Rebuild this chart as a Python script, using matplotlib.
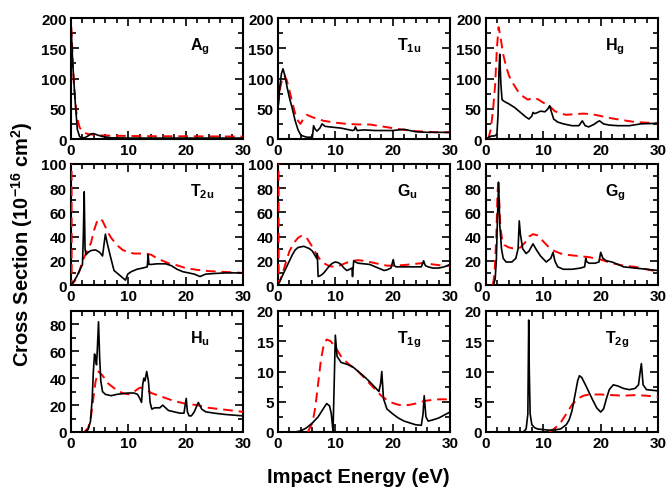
import matplotlib
matplotlib.use("Agg")
import matplotlib.pyplot as plt
from matplotlib.ticker import MultipleLocator

plt.rcParams['font.family'] = ['Liberation Sans', 'DejaVu Sans']
plt.rcParams['font.weight'] = 'bold'
plt.rcParams['mathtext.fontset'] = 'custom'
plt.rcParams['mathtext.rm'] = 'Liberation Sans:bold'
plt.rcParams['mathtext.bf'] = 'Liberation Sans:bold'
plt.rcParams['mathtext.it'] = 'Liberation Sans:bold'
plt.rcParams['mathtext.default'] = 'bf'

# ---- data (solid = black, dashed = red) ----
ag_solid_x = [0, 0.3, 0.7, 1.1, 1.5, 1.9, 2.3, 2.8, 3.4, 3.9, 4.5, 5.5, 7, 10, 15, 20, 25, 30]
ag_solid_y = [190, 125, 66, 16, 4, 2, 2, 4, 8, 9, 7, 4, 2, 1.5, 1.5, 1.5, 1.5, 1.5]
ag_dash_x = [0.05, 0.5, 1, 1.5, 2, 2.5, 3, 4, 5, 7, 10, 15, 20, 30]
ag_dash_y = [185, 90, 38, 19, 13, 10, 8, 7, 6, 5.5, 5, 4.5, 4.5, 4]

t1u_solid_x = [0, 0.3, 0.6, 0.87, 1.2, 1.6, 2.0, 2.5, 3.0, 3.5, 4.0, 5.0, 6.0, 6.2, 6.5, 6.8, 7.3, 7.7,
               8.2, 9, 10, 11, 12, 13, 13.3, 13.5, 13.8, 15, 17, 19, 20, 21, 22, 23, 24, 26, 28, 30]
t1u_solid_y = [50, 85, 108, 116, 105, 85, 68, 50, 30, 15, 6, 3, 3, 22, 16, 13, 18, 25,
               21, 20, 19, 18, 16, 14, 15, 20, 14, 15, 14, 14, 14, 15, 16, 14, 12, 11, 11, 11]
t1u_dash_x = [0, 0.4, 0.8, 1.1, 1.5, 2, 2.5, 3, 3.5, 3.9, 4.4, 5.0, 6, 7, 8, 10, 12, 14, 16, 18, 20,
              22, 24, 26, 28, 30]
t1u_dash_y = [55, 85, 102, 105, 98, 80, 60, 42, 30, 25, 33, 40, 36, 33, 30, 27, 25, 24, 24, 21, 18,
              15, 13, 12, 11, 11]

hg_solid_x = [0, 0.5, 1.0, 1.5, 1.9, 2.1, 2.25, 2.4, 2.6, 2.8, 3.2, 4, 5, 6, 7, 7.5, 8, 8.2, 8.5, 8.8,
              9.5, 10.3, 10.8, 11.1, 11.4, 11.8, 12.5, 13.5, 15, 16.2, 16.8, 17.3, 17.9, 18.8, 19.4,
              19.8, 20.5, 21.5, 23, 25, 27, 30]
hg_solid_y = [0, 3, 5, 5, 8, 40, 110, 140, 90, 65, 62, 58, 52, 44, 36, 33, 38, 44, 42, 43,
              46, 45, 50, 55, 45, 33, 28, 25, 22, 22, 30, 22, 20, 24, 28,
              30, 25, 23, 22, 22, 25, 26]
hg_dash_x = [0.4, 0.8, 1.2, 1.6, 1.9, 2.2, 2.5, 3.0, 3.5, 4.0, 4.5, 5.5, 6.5, 7.3, 8.2, 9.0, 10, 11,
             12, 13, 14, 15.5, 17, 18.5, 20, 22, 24, 26, 28, 30]
hg_dash_y = [0, 15, 45, 90, 150, 185, 170, 140, 120, 105, 95, 80, 70, 65, 68, 66, 60, 55,
             46, 42, 40, 41, 42, 41, 38, 34, 31, 28, 27, 26]

t2u_solid_x = [0, 0.5, 1.0, 1.5, 2.0, 2.15, 2.3, 2.45, 2.6, 3.0, 3.5, 4.3, 5.0, 5.5, 5.8, 6.0, 6.3,
               6.8, 7.5, 8.5, 9.5, 9.9, 10.5, 11.5, 12.5, 13.3, 13.45, 13.6, 14, 15, 16.5, 17.5,
               18.5, 19.5, 20.5, 21.5, 22.5, 23.5, 25, 27, 30]
t2u_solid_y = [0, 3, 7, 12, 17, 40, 77, 30, 25, 27, 28.5, 29, 27, 24, 35, 42, 35,
               25, 12, 8, 4, 9, 11, 13, 14, 15, 25, 17, 17, 17.5, 17.5, 16,
               13, 11, 10, 9, 7, 9, 9.5, 10, 10]
t2u_dash_x = [0.1, 0.12, 0.2, 0.6, 1.0, 1.5, 2.0, 2.5, 3.0, 3.5, 4.0, 4.5, 5.0, 5.5, 6.0, 6.5, 7.0,
              8.0, 9.0, 10, 11, 12, 13, 14, 15, 16, 17, 18, 20, 22, 24, 26, 28, 30]
t2u_dash_y = [120, 2, 1, 3, 6, 12, 20, 25, 30, 35, 45, 52, 55, 53, 48, 43, 39,
              33, 29, 27, 26, 26, 26, 25, 22, 20, 18, 17, 14, 12.5, 11.5, 11, 10.5, 10]

gu_solid_x = [0, 0.5, 1, 1.5, 2, 2.5, 3, 3.5, 4.5, 5.5, 6.0, 6.5, 6.75, 6.85, 7.0, 7.5, 8.0, 8.5,
              9.0, 9.5, 10, 10.5, 11, 11.5, 12, 12.5, 12.9, 13.0, 13.2, 13.5, 14, 15, 16, 17, 18,
              18.5, 19, 19.7, 20.1, 20.3, 20.6, 22, 24, 25, 25.4, 25.7, 26.2, 27, 28, 29, 30]
gu_solid_y = [0, 5, 10, 15, 20, 25, 29, 31, 32, 30, 28, 24, 22, 26, 7, 8, 10, 13,
              16, 18, 19, 18.5, 17, 14, 12, 13, 14, 7, 20, 19, 18, 17.5, 17, 15, 13,
              12, 12.5, 14, 21, 16, 15, 15, 15, 15, 20, 16, 15, 14, 14, 15, 17]
gu_dash_x = [0.1, 0.12, 0.3, 0.7, 1.2, 2, 2.8, 3.5, 4.2, 5.0, 5.8, 6.5, 7.2, 8.0, 9.0, 10, 11, 12,
             13, 14, 15, 16, 17, 18, 19, 20, 22, 24, 25, 26, 27, 28, 29, 30]
gu_dash_y = [120, 2, 3, 8, 16, 28, 35, 39, 41, 39, 33, 27, 22, 18, 15.5, 15, 16.5, 18.5,
             20, 20.5, 20, 19, 18, 17, 16, 16, 16.5, 17.5, 18, 18, 17, 16.5, 15.5, 16]

gg_solid_x = [1.3, 1.6, 1.8, 2.0, 2.2, 2.4, 2.7, 3.0, 3.5, 4.5, 5.2, 5.6, 5.8, 6.0, 6.4, 7.0, 7.5,
              8.2, 8.8, 9.5, 10.5, 11.3, 11.7, 12.0, 12.5, 13.5, 15, 16.5, 17.2, 17.4, 17.6, 18.0,
              19.0, 19.7, 20.0, 20.4, 21, 22, 23, 24, 26, 28, 30]
gg_solid_y = [0, 5, 20, 55, 85, 50, 30, 22, 19, 19, 22, 30, 53, 42, 30, 26, 28,
              34, 29, 24, 19, 22, 27, 20, 15, 13, 13, 14, 15, 22, 19, 18,
              18, 19, 27, 22, 20, 19, 17, 15, 14, 13, 12]
gg_dash_x = [1.2, 1.5, 1.8, 2.0, 2.15, 2.3, 2.5, 2.8, 3.2, 4.0, 5.0, 6.0, 6.8, 7.5, 8.2, 9.0, 10, 11,
             12, 13, 14, 16, 18, 20, 22, 24, 26, 28, 30]
gg_dash_y = [0, 10, 40, 75, 87, 70, 48, 38, 33, 31, 30, 31, 35, 40, 42, 41, 36, 31,
             28, 26, 25, 24, 23, 21, 18, 16, 15, 13, 11]

hu_solid_x = [0, 2.5, 3.0, 3.4, 3.7, 3.9, 4.1, 4.25, 4.45, 4.6, 4.8, 5.0, 5.2, 5.5, 6, 7, 8, 9, 10,
              11, 11.6, 12.0, 12.3, 12.5, 12.7, 12.9, 13.2, 13.5, 13.8, 14.1, 14.6, 15.5, 16.0,
              16.5, 17, 18, 19, 19.7, 20.1, 20.3, 20.6, 21.0, 21.5, 22.2, 22.8, 23.5, 25, 27, 30]
hu_solid_y = [0, 0, 2, 8, 25, 45, 58, 56, 50, 62, 82, 55, 38, 30, 28, 27, 28, 28.5, 29,
              29, 28, 25, 22, 35, 40, 38, 45, 38, 22, 17, 18, 18, 20,
              18, 16, 15, 14, 14, 25, 15, 12, 12, 15, 22, 17, 15, 14, 13, 12]
hu_dash_x = [2.3, 3.0, 3.5, 3.9, 4.3, 4.8, 5.5, 6.5, 8, 9, 10, 11, 12, 13, 14, 16, 18, 20, 22, 24,
             26, 28, 30]
hu_dash_y = [0, 3, 12, 25, 38, 45, 42, 36, 31, 29, 28, 30, 33, 32, 29, 26, 23, 21, 20, 18,
             17, 16, 15]

t1g_solid_x = [0, 3, 4, 5, 6, 7, 8, 8.5, 9.0, 9.3, 9.5, 9.6, 9.8, 10.0, 10.3, 11, 12, 13, 14, 15,
               16, 17, 17.6, 17.9, 18.1, 18.4, 19, 20, 21, 22, 23, 24, 25, 25.3, 25.5, 25.8, 26.2,
               27, 28, 29, 30]
t1g_solid_y = [0, 0, 0.2, 0.7, 1.5, 2.5, 4, 4.7, 4.3, 3, 1, 0.2, 8, 16, 12.5, 11.5, 11.2, 10.8, 10,
               9.2, 8.3, 7.3, 6.7, 8, 10, 5.5, 3.8, 3, 2.3, 1.8, 1.5, 1.2, 1.1, 3, 6, 2.5, 1.8,
               2, 2.3, 2.8, 3.3]
t1g_dash_x = [5.2, 6.0, 6.5, 7.0, 7.5, 8.0, 8.5, 9.2, 10, 11, 12, 13, 14, 15, 16, 17, 18, 19, 20,
              21, 22, 23, 24, 25, 26, 27, 28, 30]
t1g_dash_y = [0, 1.5, 4, 8, 12, 14.5, 15.3, 15, 14, 12.5, 11.5, 10.7, 10, 9, 8, 7, 6, 5.3, 4.8,
              4.5, 4.4, 4.5, 4.7, 5, 5.2, 5.3, 5.4, 5.4]

t2g_solid_x = [0, 6.5, 7.0, 7.3, 7.45, 7.55, 7.7, 8.0, 8.5, 9, 10, 11, 12, 13, 14, 14.5, 15, 15.5,
               16, 16.3, 16.7, 17.5, 18.5, 19.3, 20, 20.5, 21, 21.5, 22.2, 23, 24, 25, 26, 26.6,
               26.9, 27.1, 27.4, 28, 29, 30]
t2g_solid_y = [0, 0, 0.5, 3, 18.5, 10, 3, 1.2, 0.7, 0.5, 0.4, 0.3, 0.35, 0.5, 1.2, 2, 3.5, 6,
               8.5, 9.3, 9, 7.5, 5.5, 4, 3.3, 3.8, 5.5, 7, 7.8, 7.6, 7.2, 7, 7.2, 7.8,
               10, 11.3, 7.8, 7, 6.9, 6.8]
t2g_dash_x = [11, 12, 13, 14, 15, 16, 17, 18, 20, 22, 24, 26, 28, 30]
t2g_dash_y = [0, 0.6, 1.5, 3, 4.5, 5.5, 6.0, 6.2, 6.2, 6.1, 6.0, 6.1, 6.0, 5.8]

labels = [r'$A_g$', r'$T_{1u}$', r'$H_g$',
          r'$T_{2u}$', r'$G_u$', r'$G_g$',
          r'$H_u$', r'$T_{1g}$', r'$T_{2g}$']
ylims = [200, 200, 200, 100, 100, 100, 90, 20, 20]
ymajor = [50, 50, 50, 20, 20, 20, 20, 5, 5]
yminor = [25, 25, 25, 10, 10, 10, 10, 2.5, 2.5]

solid = [(ag_solid_x, ag_solid_y), (t1u_solid_x, t1u_solid_y), (hg_solid_x, hg_solid_y),
         (t2u_solid_x, t2u_solid_y), (gu_solid_x, gu_solid_y), (gg_solid_x, gg_solid_y),
         (hu_solid_x, hu_solid_y), (t1g_solid_x, t1g_solid_y), (t2g_solid_x, t2g_solid_y)]
dashed = [(ag_dash_x, ag_dash_y), (t1u_dash_x, t1u_dash_y), (hg_dash_x, hg_dash_y),
          (t2u_dash_x, t2u_dash_y), (gu_dash_x, gu_dash_y), (gg_dash_x, gg_dash_y),
          (hu_dash_x, hu_dash_y), (t1g_dash_x, t1g_dash_y), (t2g_dash_x, t2g_dash_y)]

W, H = 669, 489
fig = plt.figure(figsize=(W / 100, H / 100), dpi=100)

lefts = [71, 278, 486]
tops = [19, 165, 312]
pw, ph = 172, 121

for i in range(9):
    r, c = divmod(i, 3)
    ax = fig.add_axes([lefts[c] / W, 1 - (tops[r] + ph) / H, pw / W, ph / H])
    sx, sy = solid[i]
    dx, dy = dashed[i]
    ax.plot(sx, sy, color='black', lw=1.2, zorder=4)
    ax.plot(dx, dy, color='#ff0000', lw=1.4, dashes=(5, 3), zorder=3)
    ax.set_xlim(0, 30)
    ax.set_ylim(0, ylims[i])
    ax.xaxis.set_major_locator(MultipleLocator(10))
    ax.xaxis.set_minor_locator(MultipleLocator(2))
    ax.yaxis.set_major_locator(MultipleLocator(ymajor[i]))
    ax.yaxis.set_minor_locator(MultipleLocator(yminor[i]))
    ax.tick_params(which='both', direction='in', top=True, right=True, width=1.2,
                   labelsize=11, pad=3)
    ax.tick_params(which='major', length=6)
    ax.tick_params(which='minor', length=3.5)
    for lab in ax.get_xticklabels() + ax.get_yticklabels():
        lab.set_fontweight('bold')
    for s in ax.spines.values():
        s.set_linewidth(1.5)
    ax.text(0.69, 0.86, labels[i], transform=ax.transAxes, fontsize=11.5,
            ha='left', va='top')

fig.text(22 / W, 0.5, r'Cross Section (10$^{-16}$ cm$^2$)', rotation=90,
         ha='center', va='center', fontsize=14.5, fontweight='bold')
fig.text(0.535, 1 - 478 / H, 'Impact Energy (eV)', ha='center', va='center',
         fontsize=14.5, fontweight='bold')

fig.savefig('out.png', dpi=100)
